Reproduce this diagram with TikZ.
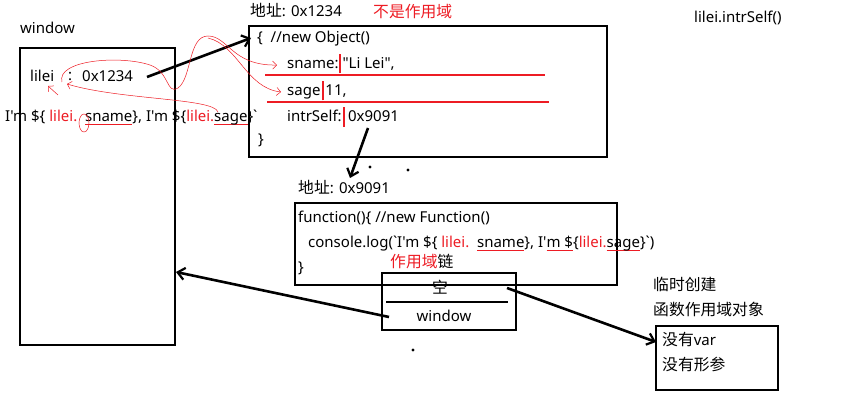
\documentclass[tikz,border=0pt]{standalone}
\usepackage{fontspec}
\newfontfamily\lat{Noto Sans}
\newfontfamily\cjkf{Noto Sans CJK SC}
\newcommand\cjk[1]{{\cjkf\fontsize{15.8}{17}\selectfont #1}}
\usetikzlibrary{arrows.meta}
\definecolor{myred}{RGB}{237,28,36}
\newcommand\ru[1]{\setbox0\hbox{#1}\rlap{\textcolor{myred}{\rule[-3.5pt]{\wd0}{1.6pt}}}\box0}
\newcommand\rbar[1]{\rlap{\hspace{-1pt}\textcolor{myred}{\rule[-5pt]{2.2pt}{#1}}}}
\newcommand\rd[1]{\textcolor{myred}{#1}}
\begin{document}
\begin{tikzpicture}[x=1pt,y=-1pt,
  box/.style={draw, line width=2.8pt, inner sep=0},
  txt/.style={anchor=west, inner sep=0, font=\lat\fontsize{15}{17}\selectfont},
  arr/.style={line width=2.6pt, -{Straight Barb[length=7pt,width=12pt,line width=2.2pt]}},
  thinarr/.style={myred, line width=0.5pt, -{Straight Barb[length=4pt,width=8pt,line width=0.5pt]}},
  thin/.style={myred, line width=0.5pt},
  dot/.style={fill, circle, inner sep=1.2pt}]
\useasboundingbox (0,0) rectangle (844,403);
% window
\node[txt] (wlabel) at (20,28) {window};
\node[box, minimum width=155pt, minimum height=297pt] (wbox) at (97.5,196.5) {};
\node[txt] (lilei) at (30,76) {lilei};
\node[txt] (colon) at (68,76) {:};
\node[txt] (addrv) at (82,76) {0x1234};
\node[txt] (tpl) at (5,118) {I'm \$\{ \rd{lilei.}\ \ \ru{sname}\}, I'm \$\{\rd{lilei.}\ru{sage}\}`};
% object
\node[txt] (addr1) at (250,10) {\cjk{地址}: 0x1234};
\node[txt, text=myred] (notscope) at (373,12) {\cjk{不是作用域}};
\node[box, minimum width=358pt, minimum height=131pt] (obox) at (428,91.5) {};
\node[txt] (o1) at (257,39) {\{\ \ //new Object()};
\node[txt] (o2) at (287,64) {sname:\hspace{1pt}\rbar{19pt}\hspace{3pt}"Li Lei",};
\node[txt] (o3) at (287,91) {sage\,\rbar{19pt}\,11,};
\node[txt] (o4) at (287,117) {intrSelf:\,\rbar{20pt}\ 0x9091};
\node[txt] (o5) at (258,140) {\}};
\draw[myred, line width=2pt] (265,75) -- (545,75);
\draw[myred, line width=2pt] (267,102) -- (549,102);
% function
\node[txt] (addr2) at (298,187) {\cjk{地址}: 0x9091};
\node[box, minimum width=322pt, minimum height=82pt] (fbox) at (456,244) {};
\node[txt] (f1) at (298,218) {function()\{ //new Function()};
\node[txt] (f2) at (308,244) {console.log(`I'm \$\{ \rd{lilei.}\ \ \ru{sname}\}, I'\ru{m \$}\{\rd{lilei.}\ru{sage}\}`)};
\node[txt] (f3) at (298,268) {\}};
\node[txt] (chain) at (390,262) {\cjk{\rd{作用域}链}};
% scope chain
\node[box, minimum width=134pt, minimum height=57pt] (cbox) at (449,301.5) {};
\draw[line width=2.8pt] (386,302) -- (508,302);
\node[anchor=center, inner sep=0, font=\lat\fontsize{15}{17}\selectfont] (empty) at (440,287) {\cjk{空}};
\node[anchor=center, inner sep=0, font=\lat\fontsize{15}{17}\selectfont] (win) at (444,316) {window};
% activation object
\node[txt] (tmp) at (653,284) {\cjk{临时创建}};
\node[txt] (fso) at (653,310) {\cjk{函数作用域对象}};
\node[box, minimum width=122pt, minimum height=64pt] (abox) at (717,358) {};
\node[txt] (a1) at (662,339) {\cjk{没有}var};
\node[txt] (a2) at (662,365) {\cjk{没有形参}};
\node[txt] (call) at (694,18) {lilei.intrSelf()};
% connectors
\coordinate (s1) at (147,77);
\coordinate (e1) at (251,38);
\draw[arr] (s1) -- (e1);
\coordinate (s2) at (368,128);
\coordinate (e2) at (350,178);
\draw[arr] (s2) -- (e2);
\coordinate (s3) at (389,317);
\coordinate (e3) at (176,272);
\draw[arr] (s3) -- (e3);
\coordinate (s4) at (507,288);
\coordinate (e4) at (656,342);
\draw[arr] (s4) -- (e4);
% dots
\node[dot] (d1) at (370,167) {};
\node[dot] (d2) at (408,170) {};
\node[dot] (d3) at (413,350) {};
% thin red hand-drawn curves
\draw[thinarr] (62,82) .. controls (56,60) and (120,55) .. (150,65) .. controls (170,72) and (166,95) .. (178,88) .. controls (192,78) and (188,36) .. (208,36) .. controls (228,36) and (232,66) .. (277,65);
\draw[thinarr] (208,38) .. controls (238,45) and (246,88) .. (281,92);
\draw[thinarr] (218,112) .. controls (214,98) and (120,100) .. (67,84);
\draw[thinarr] (58,95) -- (48,86);
\draw[thin] (84,123) ellipse (5 and 9);
\end{tikzpicture}
\end{document}
